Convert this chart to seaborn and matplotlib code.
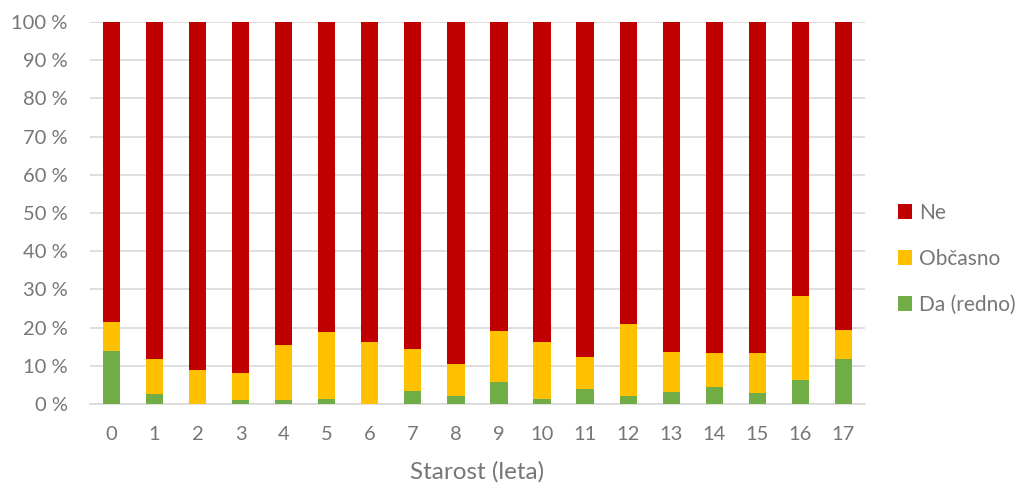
import matplotlib
matplotlib.use("Agg")
import matplotlib.pyplot as plt
import seaborn as sns
import pandas as pd
import numpy as np
from matplotlib.patches import Patch

ages = [str(i) for i in range(18)]
da_redno = [14.0, 2.7, 0.0, 1.0, 1.0, 1.4, 0.0, 3.3, 2.0, 5.7, 1.2, 4.0, 2.0, 3.1, 4.4, 2.9, 6.4, 11.7]
obcasno = [7.6, 9.2, 9.0, 7.0, 14.5, 17.4, 16.3, 11.2, 8.6, 13.5, 15.0, 8.4, 19.0, 10.6, 9.0, 10.5, 21.9, 7.8]
ne = [100 - a - b for a, b in zip(da_redno, obcasno)]

labels = ["Ne", "Občasno", "Da (redno)"]
colors = ["#C00000", "#FFC000", "#70AD47"]
text_color = "#767676"

sns.set_theme(style="white")
plt.rcParams["font.family"] = ["Lato", "DejaVu Sans"]

df = pd.DataFrame({
    "age": ages,
    "da": da_redno,
    "obc": obcasno,
    "ne": ne,
})
df["cum_obc"] = df["da"] + df["obc"]
df["cum_ne"] = df["cum_obc"] + df["ne"]

fig = plt.figure(figsize=(10.25, 4.86), dpi=100)
ax = fig.add_axes([0.0878, 0.1687, 0.756, 0.786])

for col, c in [("cum_ne", colors[0]), ("cum_obc", colors[1]), ("da", colors[2])]:
    sns.barplot(data=df, x="age", y=col, color=c, width=0.4, ax=ax,
                saturation=1, edgecolor="none", linewidth=0, zorder=3)

ax.set_ylim(0, 100)
ax.set_xlim(-0.5, 17.5)
ax.set_yticks(np.arange(0, 101, 10))
ax.set_yticklabels([f"{v} %" for v in range(0, 101, 10)])
ax.yaxis.grid(True, color="#D9D9D9", linewidth=1.2, zorder=0)
ax.set_axisbelow(True)
for s in ["top", "right", "left"]:
    ax.spines[s].set_visible(False)
ax.spines["bottom"].set_color("#D9D9D9")
ax.spines["bottom"].set_linewidth(1.2)
ax.tick_params(axis="both", length=0, labelsize=14.5, colors=text_color)
ax.tick_params(axis="x", pad=16)
ax.tick_params(axis="y", pad=16)
ax.set_ylabel("")
ax.set_xlabel("Starost (leta)", fontsize=17.5, color=text_color, labelpad=13)

handles = [Patch(facecolor=c, edgecolor="none") for c in colors]
leg = fig.legend(handles, labels, loc="center left", bbox_to_anchor=(0.876, 0.467),
                 frameon=False, fontsize=15, handlelength=0.7, handleheight=0.7,
                 handletextpad=0.3, labelspacing=1.25, borderpad=0,
                 borderaxespad=0)
for t in leg.get_texts():
    t.set_color(text_color)

fig.savefig("out.png", dpi=100)
